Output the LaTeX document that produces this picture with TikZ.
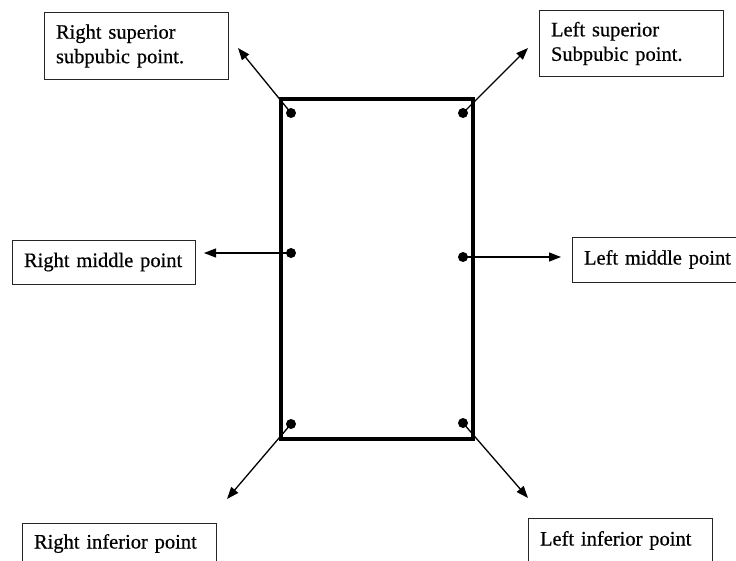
\documentclass[tikz,border=0pt]{standalone}
\usepackage{fontspec}
\setmainfont{Liberation Serif}[FakeBold=0.5]
\usetikzlibrary{arrows.meta}
\begin{document}
\begin{tikzpicture}[x=1pt,y=-1pt,
  lbl/.style={draw=black!85, line width=1pt, anchor=north west, inner xsep=11.5pt, inner ysep=0pt,
    font=\fontsize{20.5}{24.5}\selectfont, align=left},
  one/.style={text height=14pt, text depth=5pt},
  pt/.style={circle, fill=black, inner sep=0pt, minimum size=10pt},
  arr/.style={line width=1.3pt, -{Triangle[length=12pt,width=9pt]}}
]
\clip (0,0) rectangle (736,560);
\fill[white] (0,0) rectangle (736,560);
% main frame
\draw[line width=4pt, line join=miter] (281,99) rectangle (472.5,438.5);
% points
\node[pt] (dRS) at (291,113) {};
\node[pt] (dLS) at (463,113) {};
\node[pt] (dRM) at (291,253) {};
\node[pt] (dLM) at (463,257) {};
\node[pt] (dRI) at (291,424) {};
\node[pt] (dLI) at (463,423) {};
% arrow tips
\coordinate (tRS) at (238,48);
\coordinate (tLS) at (528,48);
\coordinate (tRM) at (204,253);
\coordinate (tLM) at (561,257);
\coordinate (tRI) at (227,499);
\coordinate (tLI) at (528,498);
% labels
\node[lbl, text width=161pt, minimum height=67pt] (bRS) at (44,12) {Right superior\\subpubic point.};
\node[lbl, text width=161pt, minimum height=66pt] (bLS) at (539,10) {Left superior\\Subpubic point.};
\node[lbl, one, text width=160pt, minimum height=44pt] (bRM) at (12,240) {Right middle point};
\node[lbl, one, text width=155pt, minimum height=45pt] (bLM) at (572,237) {Left middle point};
\node[lbl, one, text width=171pt, minimum height=41pt] (bRI) at (22,523) {Right inferior point};
\node[lbl, one, text width=161pt, minimum height=45pt] (bLI) at (528,518) {Left inferior point};
% connectors
\draw[arr] (dRS.center) -- (tRS);
\draw[arr] (dLS.center) -- (tLS);
\draw[arr] (dRM.center) -- (tRM);
\draw[arr] (dLM.center) -- (tLM);
\draw[arr] (dRI.center) -- (tRI);
\draw[arr] (dLI.center) -- (tLI);
\end{tikzpicture}
\end{document}
